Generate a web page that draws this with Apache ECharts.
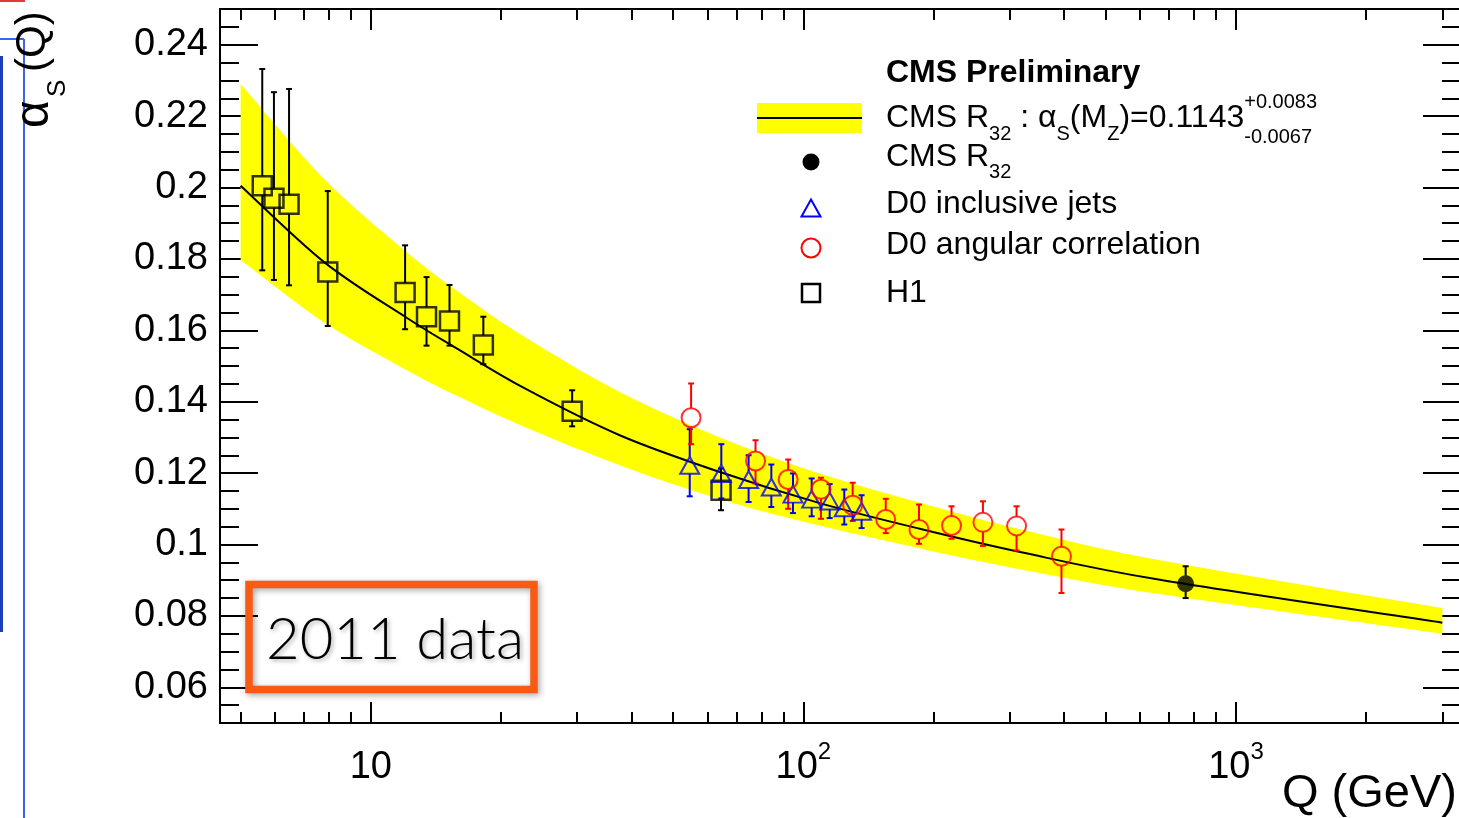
<!DOCTYPE html>
<html lang="en">
<head>
<meta charset="UTF-8">
<title>alpha_s(Q)</title>
<script src="https://cdn.jsdelivr.net/npm/echarts@6.0.0/dist/echarts.min.js"></script>
<style>
  html, body { margin: 0; padding: 0; background: #fff; }
  #chart { width: 1459px; height: 818px; }
</style>
</head>
<body>
<div id="chart"></div>
<script>
// ---- values ----
// fit curve and its uncertainty band
var fitQ    = [5, 7.8, 12, 15.9, 22.7, 37.6, 64.1, 109, 186, 317, 667, 3000];
var fitMid  = [0.2005, 0.1791, 0.1638, 0.1547, 0.1437, 0.1306, 0.1203, 0.1116, 0.1044, 0.0979, 0.0901, 0.0781];
var fitUp   = [0.2290, 0.2024, 0.1823, 0.1709, 0.1581, 0.1427, 0.1300, 0.1199, 0.1117, 0.1043, 0.0956, 0.0822];
var fitDown = [0.1797, 0.1622, 0.1491, 0.1415, 0.1329, 0.1222, 0.1127, 0.1053, 0.0989, 0.0931, 0.0861, 0.0750];

// H1
var h1Q   = [5.61, 5.97, 6.47, 7.95, 12.0, 13.45, 15.2, 18.2, 29.2, 64.5];
var h1Val = [0.2005, 0.1970, 0.1953, 0.1763, 0.1706, 0.1638, 0.1626, 0.1559, 0.1373, 0.1152];
var h1Lo  = [0.1768, 0.1741, 0.1726, 0.1612, 0.1603, 0.1557, 0.1557, 0.1505, 0.1331, 0.1096];
var h1Hi  = [0.2332, 0.2267, 0.2276, 0.1990, 0.1838, 0.1749, 0.1727, 0.1638, 0.1432, 0.1213];

// D0 inclusive jets
var jetQ   = [54.6, 64.6, 74.7, 84.3, 94.6, 104.5, 115, 124.3, 136.3];
var jetVal = [0.1222, 0.1199, 0.1182, 0.1161, 0.1141, 0.1127, 0.1122, 0.1103, 0.1093];
var jetLo  = [0.1135, 0.1129, 0.1119, 0.1105, 0.1088, 0.1079, 0.1074, 0.1056, 0.1046];
var jetHi  = [0.1323, 0.1281, 0.1250, 0.1224, 0.1199, 0.1185, 0.1169, 0.1154, 0.1138];

// D0 angular correlation
var angQ   = [55.0, 77.5, 92.2, 109.8, 130, 155, 185, 220, 260, 311, 395];
var angVal = [0.1355, 0.1234, 0.1182, 0.1155, 0.1110, 0.1070, 0.1042, 0.1053, 0.1062, 0.1052, 0.0967];
var angLo  = [0.1281, 0.1171, 0.1100, 0.1072, 0.1066, 0.1032, 0.1002, 0.1016, 0.0996, 0.0983, 0.0864];
var angHi  = [0.1451, 0.1292, 0.1238, 0.1187, 0.1173, 0.1128, 0.1112, 0.1107, 0.1121, 0.1107, 0.1042];

// CMS R32
var cmsQ   = [765];
var cmsVal = [0.0890];
var cmsLo  = [0.0850];
var cmsHi  = [0.0939];

// axes
var xMin = 4.48, xMax = 3313;
var xMajor = [10, 100, 1000];
var xMajorText = ['{b|10}', '{b|10}{sup|2}', '{b|10}{sup|3}'];
var xMinor = [5, 6, 7, 8, 9, 20, 30, 40, 50, 60, 70, 80, 90, 200, 300, 400, 500, 600, 700, 800, 900, 2000, 3000];
var yMin = 0.05, yMax = 0.25;
var yMajor = [0.06, 0.08, 0.1, 0.12, 0.14, 0.16, 0.18, 0.2, 0.22, 0.24];
var yMajorText = ['0.06', '0.08', '0.1', '0.12', '0.14', '0.16', '0.18', '0.2', '0.22', '0.24'];
var yMinor = [0.055, 0.06, 0.065, 0.07, 0.075, 0.08, 0.085, 0.09, 0.095, 0.1, 0.105, 0.11, 0.115, 0.12,
              0.125, 0.13, 0.135, 0.14, 0.145, 0.15, 0.155, 0.16, 0.165, 0.17, 0.175, 0.18, 0.185, 0.19,
              0.195, 0.2, 0.205, 0.21, 0.215, 0.22, 0.225, 0.23, 0.235, 0.24, 0.245];

var FONT = '"Liberation Sans", Arial, Helvetica, sans-serif';

function pairs(xs, ys) {
  return xs.map(function (x, i) { return [x, ys[i]]; });
}
function errRows(xs, v, lo, hi) {
  return xs.map(function (x, i) { return [x, v[i], lo[i], hi[i]]; });
}
function nearestIdx(list, v) {
  var best = 0;
  for (var i = 1; i < list.length; i++) {
    if (Math.abs(list[i] - v) < Math.abs(list[best] - v)) best = i;
  }
  return best;
}

var tickStyle = { color: '#000', width: 2 };

function xAxisAt(pos, ticks, len, withLine, withLabels) {
  return {
    type: 'log', logBase: 10, min: xMin, max: xMax, position: pos,
    axisLine: { show: withLine, onZero: false, lineStyle: { color: '#000', width: 2 } },
    axisTick: { show: true, inside: true, length: len, customValues: ticks, lineStyle: tickStyle },
    axisLabel: withLabels ? {
      customValues: xMajor, margin: 12, color: '#000', fontFamily: FONT, fontSize: 38,
      formatter: function (v) { return xMajorText[nearestIdx(xMajor, v)]; },
      rich: {
        b: { fontFamily: FONT, fontSize: 38, lineHeight: 52, verticalAlign: 'bottom', color: '#000' },
        sup: { fontFamily: FONT, fontSize: 24, lineHeight: 24, verticalAlign: 'top', padding: [5, 0, 0, 0], color: '#000' }
      }
    } : { show: false },
    splitLine: { show: false },
    minorTick: { show: false },
    minorSplitLine: { show: false }
  };
}

function yAxisAt(pos, ticks, len, withLine, withLabels) {
  return {
    type: 'value', min: yMin, max: yMax, position: pos,
    axisLine: { show: withLine, onZero: false, lineStyle: { color: '#000', width: 2 } },
    axisTick: { show: true, inside: true, length: len, customValues: ticks, lineStyle: tickStyle },
    axisLabel: withLabels ? {
      customValues: yMajor, margin: 12, color: '#000', fontFamily: FONT, fontSize: 38,
      formatter: function (v) { return yMajorText[nearestIdx(yMajor, v)]; }
    } : { show: false },
    splitLine: { show: false }
  };
}

// smooth curve through screen points (catmull-rom as cubic beziers)
function smoothPath(p) {
  var s = '';
  for (var i = 0; i < p.length - 1; i++) {
    var p0 = p[i - 1] || p[i], p1 = p[i], p2 = p[i + 1], p3 = p[i + 2] || p[i + 1];
    var c1x = p1[0] + (p2[0] - p0[0]) / 6, c1y = p1[1] + (p2[1] - p0[1]) / 6;
    var c2x = p2[0] - (p3[0] - p1[0]) / 6, c2y = p2[1] - (p3[1] - p1[1]) / 6;
    s += ' C' + c1x + ' ' + c1y + ' ' + c2x + ' ' + c2y + ' ' + p2[0] + ' ' + p2[1];
  }
  return s;
}

function bandSeries() {
  return {
    type: 'custom', silent: true, z: 2,
    xAxisIndex: 0, yAxisIndex: 0,
    data: [[fitQ[0], fitUp[0]]],
    encode: { x: 0, y: 1 },
    renderItem: function (params, api) {
      var up = fitQ.map(function (q, i) { return api.coord([q, fitUp[i]]); });
      var dn = fitQ.map(function (q, i) { return api.coord([q, fitDown[i]]); }).reverse();
      var d = 'M' + up[0][0] + ' ' + up[0][1] + smoothPath(up) +
              ' L' + dn[0][0] + ' ' + dn[0][1] + smoothPath(dn) + ' Z';
      return { type: 'path', shape: { pathData: d }, style: { fill: '#ffff00', stroke: null } };
    }
  };
}

function fitSeries() {
  return {
    type: 'custom', silent: true, z: 3,
    xAxisIndex: 0, yAxisIndex: 0,
    data: [[fitQ[0], fitMid[0]]],
    encode: { x: 0, y: 1 },
    renderItem: function (params, api) {
      var pts = fitQ.map(function (q, i) { return api.coord([q, fitMid[i]]); });
      var d = 'M' + pts[0][0] + ' ' + pts[0][1] + smoothPath(pts);
      return { type: 'path', shape: { pathData: d }, style: { fill: null, stroke: '#000', lineWidth: 2 } };
    }
  };
}

function errSeries(rows, color, gap) {
  return {
    type: 'custom', data: rows, z: 4, silent: true,
    xAxisIndex: 0, yAxisIndex: 0,
    encode: { x: 0, y: 1 },
    renderItem: function (params, api) {
      var q = api.value(0);
      var c = api.coord([q, api.value(1)]);
      var lo = api.coord([q, api.value(2)]);
      var hi = api.coord([q, api.value(3)]);
      var kids = [];
      function seg(x1, y1, x2, y2) {
        kids.push({ type: 'line', shape: { x1: x1, y1: y1, x2: x2, y2: y2 },
                    style: { stroke: color, lineWidth: 2 } });
      }
      if (c[1] - gap > hi[1]) seg(c[0], hi[1], c[0], c[1] - gap);
      if (lo[1] > c[1] + gap) seg(c[0], c[1] + gap, c[0], lo[1]);
      seg(c[0] - 3, hi[1], c[0] + 3, hi[1]);
      seg(c[0] - 3, lo[1], c[0] + 3, lo[1]);
      return { type: 'group', children: kids };
    }
  };
}

// text pieces laid out one after another (sub/superscripts)
var measureCtx = document.createElement('canvas').getContext('2d');
function textWidth(str, size, weight) {
  measureCtx.font = (weight || 'normal') + ' ' + size + 'px ' + FONT;
  return measureCtx.measureText(str).width;
}
function textRun(x0, pieces) {
  var out = [];
  var x = x0;
  pieces.forEach(function (p) {
    out.push({
      type: 'text', x: x, y: p.y, z: 10, silent: true,
      style: { text: p.t, fill: '#000', font: p.s + 'px ' + FONT, align: 'left', verticalAlign: 'middle' }
    });
    x += textWidth(p.t, p.s);
  });
  return out;
}

var LS = 32;   // legend text size
var LSS = 20;  // legend sub/sup size
var row2Els = textRun(886, [
  { t: 'CMS R', s: LS, y: 118 },
  { t: '32', s: LSS, y: 134 },
  { t: ' : ', s: LS, y: 118 },
  { t: 'α', s: LS, y: 118 },
  { t: 'S', s: LSS, y: 134 },
  { t: '(M', s: LS, y: 118 },
  { t: 'Z', s: LSS, y: 134 },
  { t: ')=0.1143', s: LS, y: 118 },
  { t: '+0.0083', s: LSS, y: 102.5 }
]);
row2Els.push({
  type: 'text', x: row2Els[row2Els.length - 1].x, y: 137.5, z: 10, silent: true,
  style: { text: '-0.0067', fill: '#000', font: LSS + 'px ' + FONT, align: 'left', verticalAlign: 'middle' }
});
var row3Els = textRun(886, [
  { t: 'CMS R', s: LS, y: 157 },
  { t: '32', s: LSS, y: 172 }
]);

// rotated y title: alpha_S(Q)
function yTitle() {
  var pieces = [
    { t: 'α', s: 48, x: 35, y: 128 },
    { t: 'S', s: 26, x: 58, y: 97 },
    { t: '(Q)', s: 42, x: 33, y: 72 }
  ];
  return pieces.map(function (p) {
    return {
      type: 'text', x: p.x, y: p.y, rotation: Math.PI / 2, z: 10, silent: true,
      style: { text: p.t, fill: '#000', font: p.s + 'px ' + FONT, align: 'left', verticalAlign: 'middle' }
    };
  });
}

var graphics = [
  // slide leftovers at the left edge
  { type: 'rect', shape: { x: 0, y: 0, width: 25, height: 2 }, style: { fill: '#e03a3a' }, silent: true },
  { type: 'rect', shape: { x: 0, y: 56, width: 3, height: 576 }, style: { fill: '#1c3fb8' }, silent: true },
  { type: 'line', shape: { x1: 0, y1: 39, x2: 24, y2: 39 }, style: { stroke: '#3a63f0', lineWidth: 2 }, silent: true },
  { type: 'line', shape: { x1: 24, y1: 39, x2: 24, y2: 818 }, style: { stroke: '#3a63f0', lineWidth: 2 }, silent: true },

  // axis title Q (GeV)
  { type: 'text', x: 1282, y: 794, z: 10, silent: true,
    style: { text: 'Q (GeV)', fill: '#000', font: '47px ' + FONT, align: 'left', verticalAlign: 'middle' } },

  // legend
  { type: 'text', x: 886, y: 73, z: 10, silent: true,
    style: { text: 'CMS Preliminary', fill: '#000', font: 'bold ' + LS + 'px ' + FONT, align: 'left', verticalAlign: 'middle' } },
  { type: 'rect', shape: { x: 757, y: 103, width: 105, height: 30 }, style: { fill: '#ffff00' }, z: 10, silent: true },
  { type: 'line', shape: { x1: 757, y1: 118, x2: 862, y2: 118 }, style: { stroke: '#000', lineWidth: 2 }, z: 11, silent: true },
  { type: 'circle', shape: { cx: 811, cy: 162, r: 8.5 }, style: { fill: '#000' }, z: 10, silent: true },
  { type: 'polygon', shape: { points: [[811, 199.5], [801.5, 216.5], [820.5, 216.5]] },
    style: { fill: 'none', stroke: '#0000ff', lineWidth: 2 }, z: 10, silent: true },
  { type: 'circle', shape: { cx: 811, cy: 248, r: 9.5 }, style: { fill: 'none', stroke: '#ff0000', lineWidth: 2 }, z: 10, silent: true },
  { type: 'rect', shape: { x: 802, y: 284, width: 18, height: 18 }, style: { fill: 'none', stroke: '#000', lineWidth: 2.5 }, z: 10, silent: true },
  { type: 'text', x: 886, y: 204.5, z: 10, silent: true,
    style: { text: 'D0 inclusive jets', fill: '#000', font: LS + 'px ' + FONT, align: 'left', verticalAlign: 'middle' } },
  { type: 'text', x: 886, y: 245, z: 10, silent: true,
    style: { text: 'D0 angular correlation', fill: '#000', font: LS + 'px ' + FONT, align: 'left', verticalAlign: 'middle' } },
  { type: 'text', x: 886, y: 293, z: 10, silent: true,
    style: { text: 'H1', fill: '#000', font: LS + 'px ' + FONT, align: 'left', verticalAlign: 'middle' } },

  // "2011 data" stamp
  { type: 'rect', shape: { x: 249, y: 584.5, width: 285, height: 105 }, z: 20, silent: true,
    style: { fill: 'none', stroke: '#f95a14', lineWidth: 7.5,
             shadowBlur: 6, shadowColor: 'rgba(0,0,0,0.35)', shadowOffsetX: 2, shadowOffsetY: 2 } },
  { type: 'text', x: 266, y: 640, z: 20, silent: true,
    style: { text: '2011 data', fill: '#000', font: '300 58px Lato, "Open Sans", sans-serif',
             align: 'left', verticalAlign: 'middle',
             textShadowBlur: 4, textShadowColor: 'rgba(0,0,0,0.3)', textShadowOffsetX: 2, textShadowOffsetY: 2 } }
].concat(row2Els, row3Els, yTitle());

var chart = echarts.init(document.getElementById('chart'), null, { renderer: 'canvas' });

var option = {
  animation: false,
  backgroundColor: '#fff',
  textStyle: { fontFamily: FONT },
  grid: { left: 220, top: 9, right: -2, bottom: 95, containLabel: false, outerBoundsMode: 'none' },
  xAxis: [
    xAxisAt('bottom', xMajor, 21, true, true),
    xAxisAt('bottom', xMinor, 11, false, false),
    xAxisAt('top', xMajor, 21, true, false),
    xAxisAt('top', xMinor, 11, false, false)
  ],
  yAxis: [
    yAxisAt('left', yMajor, 38, true, true),
    yAxisAt('left', yMinor, 19, false, false),
    yAxisAt('right', yMajor, 38, true, false),
    yAxisAt('right', yMinor, 19, false, false)
  ],
  series: [
    bandSeries(),
    fitSeries(),

    errSeries(errRows(h1Q, h1Val, h1Lo, h1Hi), '#000', 9.5),
    errSeries(errRows(jetQ, jetVal, jetLo, jetHi), '#0000ff', 8.5),
    errSeries(errRows(angQ, angVal, angLo, angHi), '#ff0000', 9.5),
    errSeries(errRows(cmsQ, cmsVal, cmsLo, cmsHi), '#000', 8),

    { name: 'H1', type: 'scatter', data: pairs(h1Q, h1Val), symbol: 'rect', symbolSize: 19,
      silent: true, z: 5,
      itemStyle: { color: 'rgba(0,0,0,0)', borderColor: '#000', borderWidth: 2.5 } },
    { name: 'D0 inclusive jets', type: 'scatter', data: pairs(jetQ, jetVal), symbol: 'triangle',
      symbolSize: [19, 17], silent: true, z: 5,
      itemStyle: { color: 'rgba(0,0,0,0)', borderColor: '#0000ff', borderWidth: 2 } },
    { name: 'D0 angular correlation', type: 'scatter', data: pairs(angQ, angVal), symbol: 'circle',
      symbolSize: 19, silent: true, z: 5,
      itemStyle: { color: 'rgba(0,0,0,0)', borderColor: '#ff0000', borderWidth: 2 } },
    { name: 'CMS R32', type: 'scatter', data: pairs(cmsQ, cmsVal), symbol: 'circle',
      symbolSize: 17, silent: true, z: 5,
      itemStyle: { color: '#000' } }
  ],
  graphic: graphics
};

chart.setOption(option);
</script>
</body>
</html>
